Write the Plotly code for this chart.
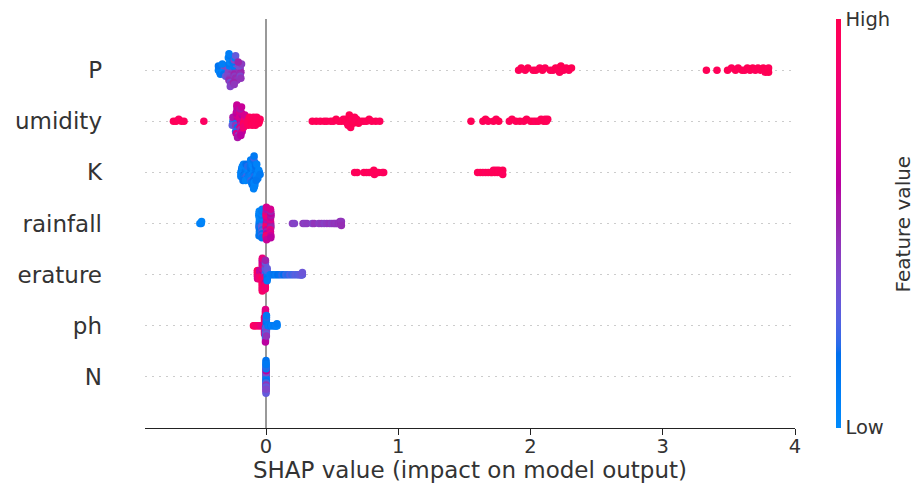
import numpy as np
import plotly.graph_objects as go

# ---------------- data ----------------
feature_names = ["N", "ph", "erature", "rainfall", "K", "umidity", "P"]   # bottom -> top
xtick_vals = [0, 1, 2, 3, 4]
colorbar_ticktext = ["Low", "High"]

P_shap = [
    -0.36, -0.355, -0.35, -0.36, -0.345,
    -0.32, -0.315, -0.325, -0.31, -0.32, -0.33, -0.305,
    -0.28, -0.27, -0.285, -0.275, -0.265, -0.28, -0.29, -0.27, -0.275, -0.26, -0.28, -0.285, -0.27, -0.275, -0.265, -0.28, -0.27,
    -0.24, -0.235, -0.23, -0.245, -0.24, -0.225, -0.235, -0.25, -0.23, -0.24, -0.22, -0.235, -0.245, -0.23, -0.24,
    -0.2, -0.195, -0.19, -0.205, -0.2, -0.185, -0.195, -0.21, -0.19,
    1.91, 1.93, 1.96, 1.98, 2.02, 2.04, 2.07, 2.09, 2.11, 2.15, 2.17, 2.19, 2.21, 2.215, 2.22, 2.23, 2.25, 2.27, 2.29, 2.31,
    3.33, 3.41, 3.49, 3.52, 3.55, 3.57, 3.60, 3.62, 3.64, 3.66, 3.68, 3.70, 3.72, 3.74, 3.76, 3.775, 3.79, 3.80, 3.80,
]
P_value = [
    0.08, 0.12, 0.05, 0.15, 0.10,
    0.10, 0.35, 0.05, 0.40, 0.15, 0.08, 0.30,
    0.30, 0.10, 0.40, 0.08, 0.45, 0.12, 0.38, 0.05, 0.42, 0.10, 0.48, 0.06, 0.35, 0.12, 0.44, 0.08, 0.40,
    0.40, 0.15, 0.45, 0.10, 0.50, 0.35, 0.42, 0.12, 0.48, 0.38, 0.45, 0.08, 0.50, 0.30, 0.44,
    0.45, 0.40, 0.50, 0.35, 0.48, 0.42, 0.38, 0.50, 0.45,
    0.97, 0.98, 0.96, 0.99, 0.97, 0.98, 0.96, 0.99, 0.97, 0.98, 0.96, 0.99, 0.97, 0.98, 0.96, 0.99, 0.97, 0.98, 0.96, 0.99,
    0.98, 0.97, 0.99, 0.96, 0.98, 0.97, 0.99, 0.96, 0.98, 0.97, 0.99, 0.96, 0.98, 0.97, 0.99, 0.96, 0.98, 0.97, 0.99,
]

U_shap = [
    -0.70, -0.68, -0.66, -0.64, -0.62, -0.47,
    -0.25, -0.245, -0.24, -0.25, -0.255,
    -0.22, -0.215, -0.225, -0.21, -0.23, -0.22, -0.215, -0.225, -0.21, -0.22, -0.23, -0.215, -0.225, -0.22, -0.21, -0.22, -0.215,
    -0.19, -0.195, -0.185, -0.2, -0.19, -0.18, -0.195, -0.185, -0.19, -0.2, -0.18, -0.195, -0.19, -0.185, -0.19,
    -0.165, -0.16, -0.17, -0.155, -0.165, -0.16, -0.17,
    -0.135, -0.13, -0.14, -0.125, -0.135,
    -0.105, -0.1, -0.11, -0.095, -0.105,
    -0.08, -0.075, -0.085, -0.07, -0.08,
    -0.05, -0.045, -0.055,
    0.35, 0.38, 0.41, 0.44, 0.46, 0.49, 0.51, 0.53, 0.55, 0.57, 0.585, 0.595, 0.605, 0.615, 0.62, 0.625,
    0.63, 0.635, 0.62, 0.63, 0.64, 0.65, 0.655, 0.66, 0.67, 0.675, 0.685, 0.70, 0.72, 0.74, 0.76, 0.78,
    0.80, 0.83, 0.86,
    1.55, 1.64, 1.66, 1.68, 1.72, 1.74, 1.76, 1.84, 1.86, 1.89, 1.92, 1.95, 1.97, 2.00, 2.02, 2.04,
    2.06, 2.08, 2.10, 2.11, 2.12, 2.13,
]
U_value = [
    0.95, 0.97, 0.94, 0.96, 0.95, 0.93,
    0.10, 0.40, 0.15, 0.55, 0.30,
    0.55, 0.60, 0.10, 0.65, 0.45, 0.70, 0.15, 0.60, 0.50, 0.65, 0.20, 0.55, 0.70, 0.60, 0.40, 0.65, 0.55,
    0.60, 0.65, 0.55, 0.70, 0.50, 0.60, 0.75, 0.65, 0.45, 0.70, 0.60, 0.55, 0.70, 0.65, 0.60,
    0.90, 0.85, 0.95, 0.80, 0.90, 0.70, 0.85,
    0.95, 0.97, 0.93, 0.96, 0.94,
    0.96, 0.95, 0.97, 0.94, 0.96,
    0.95, 0.97, 0.96, 0.94, 0.95,
    0.96, 0.95, 0.97,
    0.97, 0.98, 0.96, 0.99, 0.97, 0.98, 0.96, 0.99, 0.97, 0.98, 0.96, 0.99, 0.97, 0.98, 0.96, 0.99,
    0.97, 0.98, 0.96, 0.99, 0.97, 0.98, 0.96, 0.99, 0.97, 0.98, 0.96, 0.99, 0.97, 0.98, 0.96, 0.99,
    0.97, 0.98, 0.96,
    0.98, 0.97, 0.99, 0.96, 0.98, 0.97, 0.99, 0.96, 0.98, 0.97, 0.99, 0.96, 0.98, 0.97, 0.99, 0.96,
    0.98, 0.97, 0.99, 0.96, 0.98, 0.97,
]

K_shap = [
    -0.19, -0.185, -0.188, -0.183, -0.19,
    -0.17, -0.175, -0.165, -0.172, -0.168, -0.178, -0.162, -0.17, -0.174,
    -0.15, -0.155, -0.145, -0.152, -0.148, -0.158, -0.142, -0.15, -0.154,
    -0.13, -0.135, -0.125, -0.132, -0.128, -0.138, -0.122,
    -0.11, -0.115, -0.105, -0.112, -0.108, -0.118, -0.102, -0.11, -0.114, -0.106, -0.11, -0.116, -0.104,
    -0.09, -0.095, -0.085, -0.092, -0.088, -0.098, -0.082, -0.09, -0.094, -0.086, -0.09, -0.096, -0.084, -0.092, -0.088, -0.09, -0.094,
    -0.07, -0.075, -0.065, -0.072, -0.068, -0.078, -0.062, -0.07, -0.074,
    -0.05, -0.055, -0.045,
    0.67, 0.69, 0.74, 0.76, 0.78, 0.80, 0.812, 0.815, 0.82, 0.835, 0.85, 0.88, 0.89,
    1.60, 1.62, 1.64, 1.66, 1.68, 1.70, 1.71, 1.72, 1.73, 1.74, 1.75, 1.76, 1.775, 1.785, 1.79, 1.79,
]
K_value = [
    0.05, 0.10, 0.03, 0.15, 0.08,
    0.10, 0.05, 0.18, 0.08, 0.12, 0.03, 0.20, 0.06, 0.14,
    0.08, 0.15, 0.04, 0.12, 0.22, 0.06, 0.10, 0.18, 0.05,
    0.12, 0.06, 0.15, 0.03, 0.10, 0.20, 0.08,
    0.06, 0.12, 0.04, 0.18, 0.08, 0.14, 0.03, 0.10, 0.22, 0.05, 0.12, 0.08, 0.16,
    0.10, 0.05, 0.15, 0.08, 0.20, 0.03, 0.12, 0.06, 0.18, 0.10, 0.04, 0.14, 0.08, 0.22, 0.05, 0.12, 0.07,
    0.08, 0.15, 0.05, 0.12, 0.03, 0.18, 0.10, 0.06, 0.14,
    0.10, 0.05, 0.12,
    0.95, 0.97, 0.96, 0.98, 0.95, 0.97, 0.96, 0.98, 0.95, 0.97, 0.96, 0.98, 0.95,
    0.97, 0.96, 0.98, 0.95, 0.97, 0.96, 0.98, 0.95, 0.97, 0.96, 0.98, 0.95, 0.97, 0.96, 0.98, 0.95,
]

R_shap = [
    -0.50, -0.49, -0.487,
    -0.051, -0.05, -0.052, -0.049, -0.053, -0.051, -0.048, -0.054, -0.05, -0.052, -0.049, -0.051, -0.053,
    -0.03, -0.029, -0.031, -0.028, -0.032, -0.03, -0.027, -0.033, -0.029, -0.031, -0.028, -0.03, -0.032, -0.029, -0.031,
    0.003, 0.004, 0.002, 0.005, 0.001, 0.003, 0.006, 0.0, 0.004, 0.002, 0.005, 0.003, 0.001, 0.004, 0.002, 0.003, 0.005,
    0.035, 0.034, 0.036, 0.033, 0.037, 0.035, 0.032, 0.038, 0.034, 0.036, 0.033, 0.035, 0.037, 0.034, 0.036,
    0.20, 0.215, 0.28, 0.295, 0.31, 0.35, 0.365, 0.40, 0.42, 0.44, 0.46, 0.48, 0.495, 0.51, 0.52, 0.53,
    0.54, 0.55, 0.555, 0.56, 0.566, 0.57, 0.57,
]
R_value = [
    0.05, 0.08, 0.04,
    0.10, 0.05, 0.15, 0.08, 0.20, 0.06, 0.12, 0.04, 0.18, 0.08, 0.10, 0.05, 0.14,
    0.15, 0.08, 0.25, 0.10, 0.30, 0.06, 0.20, 0.12, 0.28, 0.05, 0.18, 0.10, 0.22, 0.08, 0.15,
    0.75, 0.60, 0.85, 0.55, 0.90, 0.70, 0.65, 0.80, 0.50, 0.85, 0.60, 0.75, 0.90, 0.55, 0.80, 0.70, 0.65,
    0.60, 0.70, 0.55, 0.75, 0.50, 0.65, 0.80, 0.55, 0.70, 0.60, 0.75, 0.50, 0.65, 0.70, 0.60,
    0.42, 0.40, 0.44, 0.41, 0.43, 0.40, 0.45, 0.42, 0.44, 0.41, 0.43, 0.45, 0.42, 0.44, 0.46, 0.43,
    0.45, 0.47, 0.44, 0.46, 0.48, 0.45, 0.47,
]

E_shap = [
    -0.066, -0.0655, -0.065, -0.066, -0.0645,
    -0.049, -0.0485, -0.0495, -0.048, -0.05,
    -0.028, -0.0285, -0.029, -0.0275, -0.028, -0.0285, -0.029, -0.0275, -0.028, -0.0285, -0.029, -0.0275, -0.028, -0.0285, -0.029, -0.0275, -0.028,
    -0.005, -0.0045, -0.0055, -0.004, -0.005, -0.0045, -0.0055, -0.004, -0.005, -0.0045, -0.0055, -0.004, -0.005, -0.0045, -0.0055,
    0.009, 0.0085, 0.0095, 0.008, 0.01, 0.009, 0.0085,
    0.03, 0.045, 0.06, 0.075, 0.09, 0.105, 0.12, 0.135, 0.15, 0.165, 0.18, 0.195, 0.21, 0.225, 0.24, 0.25,
    0.26, 0.265, 0.269, 0.272, 0.275, 0.275,
]
E_value = [
    0.85, 0.90, 0.80, 0.95, 0.75,
    0.80, 0.70, 0.90, 0.65, 0.85,
    0.70, 0.85, 0.90, 0.60, 0.95, 0.75, 0.90, 0.55, 0.85, 0.80, 0.95, 0.70, 0.90, 0.65, 0.85, 0.80, 0.90,
    0.40, 0.30, 0.70, 0.20, 0.85, 0.35, 0.90, 0.25, 0.60, 0.45, 0.80, 0.30, 0.90, 0.50, 0.85,
    0.15, 0.20, 0.10, 0.25, 0.15, 0.30, 0.10,
    0.10, 0.12, 0.15, 0.10, 0.18, 0.15, 0.20, 0.18, 0.22, 0.20, 0.25, 0.22, 0.25, 0.28, 0.25, 0.28,
    0.30, 0.27, 0.30, 0.28, 0.30, 0.32,
]

H_shap = [
    -0.095, -0.09, -0.08, -0.07, -0.06, -0.05, -0.04,
    -0.0115, -0.011, -0.012, -0.0113, -0.0118, -0.011, -0.0115, -0.012, -0.0112,
    -0.004, -0.0042, -0.0038, -0.0045, -0.0035, -0.004, -0.0042, -0.0038, -0.0045, -0.0035, -0.004, -0.0042, -0.0038, -0.0045, -0.0035, -0.004, -0.0042,
    0.003, 0.0028, 0.0032, 0.0025, 0.0035, 0.003, 0.0028, 0.0032, 0.0025, 0.0035, 0.003,
    0.015, 0.025, 0.035, 0.045, 0.055, 0.062, 0.068, 0.074, 0.078, 0.082, 0.083, 0.083,
]
H_value = [
    0.90, 0.95, 0.88, 0.92, 0.85, 0.90, 0.80,
    0.85, 0.90, 0.80, 0.95, 0.70, 0.90, 0.75, 0.85, 0.80,
    0.70, 0.85, 0.10, 0.75, 0.30, 0.90, 0.15, 0.65, 0.40, 0.80, 0.10, 0.70, 0.20, 0.85, 0.35, 0.75, 0.60,
    0.20, 0.10, 0.35, 0.15, 0.25, 0.10, 0.40, 0.20, 0.30, 0.12, 0.45,
    0.10, 0.08, 0.12, 0.05, 0.10, 0.08, 0.12, 0.06, 0.10, 0.08, 0.05, 0.10,
]

N_shap = [
    0.0, 0.0, 0.0, 0.0, 0.0, 0.0, 0.0, 0.0, 0.0, 0.0, 0.0, 0.0, 0.0, 0.0, 0.0, 0.0, 0.0,
    0.001, 0.001, 0.001, 0.001, 0.001, 0.001, 0.001, 0.001, 0.001, 0.001, 0.001, 0.001, 0.001,
]
N_value = [
    0.30, 0.10, 0.35, 0.15, 0.40, 0.10, 0.25, 0.45, 0.12, 0.30, 0.65, 0.20, 0.35, 0.10, 0.50, 0.15, 0.30,
    0.20, 0.40, 0.10, 0.35, 0.15, 0.60, 0.25, 0.10, 0.45, 0.20, 0.30, 0.12, 0.38,
]

rows = [
    (N_shap, N_value), (H_shap, H_value), (E_shap, E_value), (R_shap, R_value),
    (K_shap, K_value), (U_shap, U_value), (P_shap, P_value),
]

# ---------------- SHAP red_blue colormap (Lch interpolation) ----------------
def lch2rgb(l, c, h):
    a, b = c * np.cos(h), c * np.sin(h)
    fy = (l + 16) / 116.0
    fx, fz = fy + a / 500.0, fy - b / 200.0
    def finv(t):
        return t ** 3 if t > 6 / 29 else 3 * (6 / 29) ** 2 * (t - 4 / 29)
    X, Y, Z = 0.95047 * finv(fx), finv(fy), 1.08883 * finv(fz)
    lin = [3.2404542 * X - 1.5371385 * Y - 0.4985314 * Z,
           -0.9692660 * X + 1.8760108 * Y + 0.0415560 * Z,
           0.0556434 * X - 0.2040259 * Y + 1.0572252 * Z]
    out = []
    for u in lin:
        u = 1.055 * u ** (1 / 2.4) - 0.055 if u > 0.0031308 else 12.92 * u
        out.append(int(round(255 * min(max(u, 0.0), 1.0))))
    return out

blue_lch = [54.0, 70.0, 4.6588]
red_lch = [54.0, 90.0, 0.35470565 + 2 * np.pi]
l_mid = 40.0
nsteps = 100
l_vals = list(np.linspace(blue_lch[0], l_mid, nsteps // 2)) + list(np.linspace(l_mid, red_lch[0], nsteps // 2))
c_vals = np.linspace(blue_lch[1], red_lch[1], nsteps)
h_vals = np.linspace(blue_lch[2], red_lch[2], nsteps)
colorscale = []
for pos, l, c, h in zip(np.linspace(0, 1, nsteps), l_vals, c_vals, h_vals):
    r, g, b = lch2rgb(l, c, h)
    colorscale.append([float(pos), f"rgb({r},{g},{b})"])

# ---------------- beeswarm layout (as in shap) ----------------
def beeswarm_offsets(shaps, row_height=0.4, nbins=100):
    s = np.asarray(shaps, dtype=float)
    quant = np.round(nbins * (s - s.min()) / (s.max() - s.min() + 1e-8))
    order = np.argsort(quant, kind="stable")
    ys = np.zeros(len(s))
    layer, last = 0, None
    for i in order:
        if quant[i] != last:
            layer = 0
        ys[i] = np.ceil(layer / 2) * ((layer % 2) * 2 - 1)
        layer += 1
        last = quant[i]
    return ys * (0.9 * row_height / np.max(ys + 1))

fig = go.Figure()
for pos, (shaps, vals) in enumerate(rows):
    offs = beeswarm_offsets(shaps)
    fig.add_trace(go.Scatter(
        x=shaps, y=pos + offs, mode="markers",
        marker=dict(size=7.5, color=vals, coloraxis="coloraxis", line=dict(width=0)),
        showlegend=False, hoverinfo="skip",
    ))

fig.update_layout(
    width=915, height=489,
    margin=dict(l=145, r=120, t=19, b=61),
    paper_bgcolor="white", plot_bgcolor="white",
    font=dict(family="DejaVu Sans", color="#333333"),
    coloraxis=dict(
        colorscale=colorscale, cmin=0, cmax=1,
        colorbar=dict(
            thickness=5, thicknessmode="pixels", len=1, lenmode="fraction",
            x=1.063, xanchor="left", xpad=0, y=0.5, yanchor="middle", ypad=0,
            outlinewidth=0, tickmode="array", tickvals=[0.001, 0.999],
            ticktext=colorbar_ticktext, ticks="",
            tickfont=dict(size=19.5, color="#333333", family="DejaVu Sans"),
        ),
    ),
    xaxis=dict(
        range=[-0.915, 4.0], tickvals=xtick_vals, showgrid=False,
        zeroline=True, zerolinecolor="#999999", zerolinewidth=1.8,
        showline=True, linecolor="#222222", linewidth=1.2,
        ticks="outside", ticklen=6, tickcolor="#222222", tickwidth=1.2,
        tickfont=dict(size=19.5), ticklabelstandoff=-6,
        title=dict(text="SHAP value (impact on model output)", font=dict(size=23), standoff=1),
        automargin=False,
    ),
    yaxis=dict(
        range=[-1, 7], tickvals=list(range(len(feature_names))), ticktext=feature_names,
        showgrid=True, gridcolor="#cccccc", gridwidth=1, griddash="1.5px,5.5px",
        zeroline=False, showline=False, ticks="", ticklabelstandoff=42,
        tickfont=dict(size=23), automargin=False,
    ),
    annotations=[dict(
        text="Feature value", x=1.166, y=0.5, xref="paper", yref="paper",
        xanchor="center", yanchor="middle",
        textangle=-90, showarrow=False, font=dict(size=20, color="#333333"),
    )],
)

# remove the browser's default 8px body margin so the 915x489 figure fills the window
fig.write_html(
    "out.html",
    config={"displayModeBar": False},
    post_script="document.body.style.margin='0';document.documentElement.style.overflow='hidden';",
)
